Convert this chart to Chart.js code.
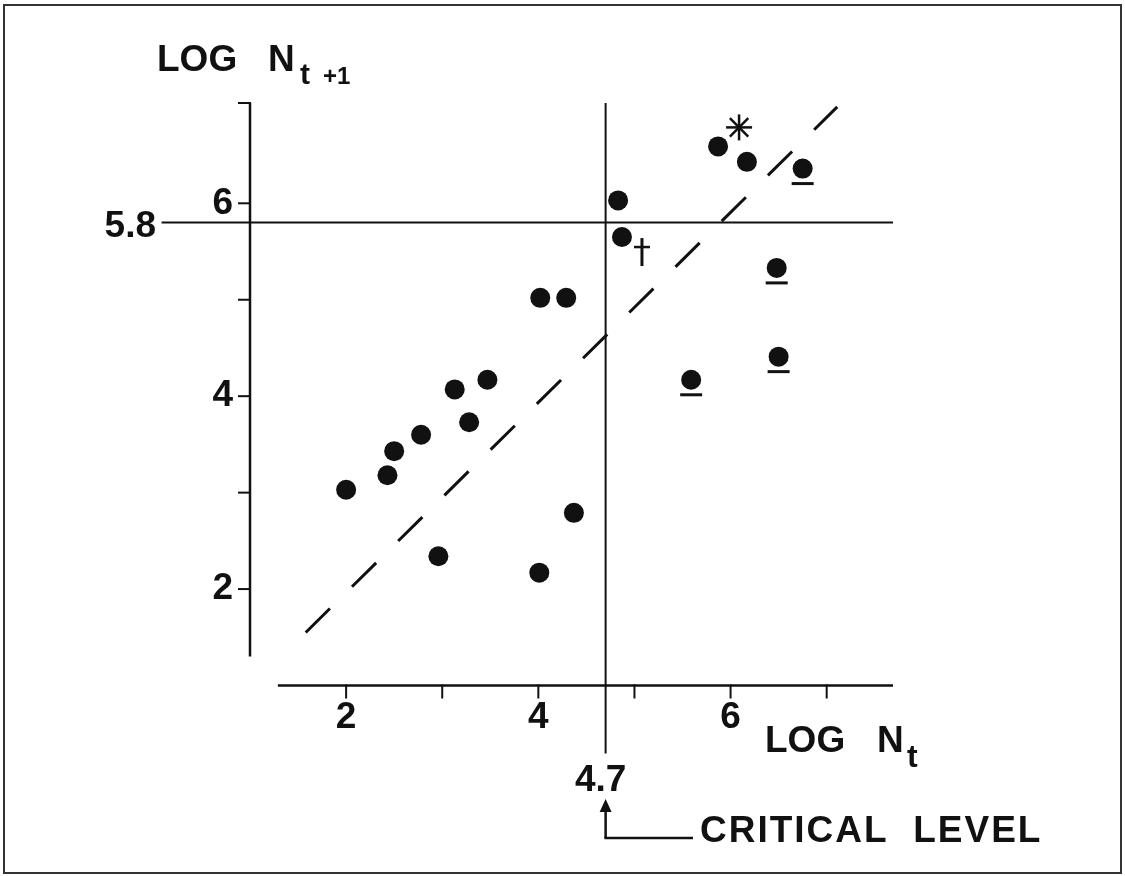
<!DOCTYPE html>
<html>
<head>
<meta charset="utf-8">
<script src="https://cdn.jsdelivr.net/npm/chart.js@4.4.0/dist/chart.umd.min.js"></script>
<style>
  html, body { margin: 0; padding: 0; background: #fff; }
  canvas { display: block; }
</style>
</head>
<body>
<canvas id="c" width="1125" height="876"></canvas>
<script>
// Log population in year t (x) against log population in year t+1 (y)
const dotX = [2.00, 2.43, 2.50, 2.78, 2.96, 3.13, 3.28, 3.47, 4.02, 4.01, 4.29, 4.37, 4.83, 4.87, 5.87, 6.17];
const dotY = [3.03, 3.18, 3.43, 3.60, 2.34, 4.07, 3.73, 4.17, 5.02, 2.17, 5.02, 2.79, 6.03, 5.65, 6.59, 6.43];
// years drawn with a bar under the dot
const barredX = [5.59, 6.48, 6.50, 6.75];
const barredY = [4.17, 5.33, 4.41, 6.36];
// replacement line (dashed)
const diagX = [1.58, 7.11];
const diagY = [1.55, 7.00];
// axis ticks; only even values carry a label
const xTicks = [2, 3, 4, 5, 6, 7];
const yTicks = [2, 3, 4, 5, 6];
// reference levels
const CRITICAL_LEVEL = 4.7;
const CEILING = 5.8;
// annotated years (indices into dotX / dotY)
const DAGGER_AT = 13;
const ASTERISK_AT = 14;

// axis extents
const X_MIN = 1, X_MAX = 7.69, X_AXIS_START = 1.29;
const Y_MIN = 1, Y_MAX = 7.04, Y_AXIS_START = 1.3;
const CEILING_FROM = 0.08;

const INK = '#111';
const FONT = '"Liberation Sans", Arial, Helvetica, sans-serif';

const toPoints = (xs, ys) => xs.map((v, i) => ({ x: v, y: ys[i] }));

function seg(ctx, x1, y1, x2, y2) {
  ctx.beginPath();
  ctx.moveTo(x1, y1);
  ctx.lineTo(x2, y2);
  ctx.stroke();
}

function txt(ctx, s, x, y, size, align, spacing) {
  ctx.font = 'bold ' + size + 'px ' + FONT;
  ctx.textAlign = align || 'left';
  ctx.textBaseline = 'alphabetic';
  ctx.letterSpacing = spacing || '0px';
  ctx.fillText(s, x, y);
  ctx.letterSpacing = '0px';
}

const figureMarks = {
  id: 'figureMarks',
  beforeDatasetsDraw(chart) {
    const { ctx, scales: { x, y } } = chart;
    ctx.save();
    ctx.strokeStyle = INK;
    ctx.lineCap = 'butt';
    const ax = x.getPixelForValue(X_MIN);
    const ay = y.getPixelForValue(Y_MIN);
    // detached axis lines
    ctx.lineWidth = 2.5;
    seg(ctx, ax, y.getPixelForValue(Y_AXIS_START), ax, y.getPixelForValue(Y_MAX));
    seg(ctx, x.getPixelForValue(X_AXIS_START), ay, x.getPixelForValue(X_MAX), ay);
    // tick marks
    ctx.lineWidth = 2;
    yTicks.concat([Y_MAX]).forEach(v => {
      const p = y.getPixelForValue(v);
      seg(ctx, ax - 12, p, ax + 1, p);
    });
    xTicks.forEach(v => {
      const p = x.getPixelForValue(v);
      seg(ctx, p, ay - 1, p, ay + 13);
    });
    // critical level and ceiling
    const cx = x.getPixelForValue(CRITICAL_LEVEL);
    seg(ctx, cx, y.getPixelForValue(Y_MAX), cx, ay + 68);
    const hy = y.getPixelForValue(CEILING);
    seg(ctx, x.getPixelForValue(CEILING_FROM), hy, x.getPixelForValue(X_MAX), hy);
    ctx.restore();
  },
  afterDatasetsDraw(chart) {
    const { ctx } = chart;
    ctx.save();
    ctx.strokeStyle = INK;
    ctx.fillStyle = INK;
    // bars under the marked years
    ctx.lineWidth = 3;
    chart.getDatasetMeta(1).data.forEach(pt => {
      seg(ctx, pt.x - 11, pt.y + 15, pt.x + 11, pt.y + 15);
    });
    const dots = chart.getDatasetMeta(0).data;
    // asterisk
    const a = dots[ASTERISK_AT];
    const ax = a.x + 21, ay = a.y - 19, r = 13;
    ctx.lineWidth = 2.5;
    for (let k = 0; k < 4; k++) {
      const t = k * Math.PI / 4;
      seg(ctx, ax - r * Math.cos(t), ay - r * Math.sin(t), ax + r * Math.cos(t), ay + r * Math.sin(t));
    }
    // dagger
    const d = dots[DAGGER_AT];
    const dx = d.x + 20;
    ctx.lineWidth = 3;
    seg(ctx, dx, d.y + 1, dx, d.y + 29);
    ctx.lineWidth = 2.5;
    seg(ctx, dx - 8, d.y + 10, dx + 8, d.y + 10);
    ctx.restore();
  },
  afterDraw(chart) {
    const { ctx, scales: { x, y } } = chart;
    ctx.save();
    ctx.fillStyle = INK;
    ctx.strokeStyle = INK;
    // y title: LOG N(t+1)
    txt(ctx, 'LOG', 157, 71, 37);
    txt(ctx, 'N', 268, 71, 37);
    txt(ctx, 't', 300, 84, 30);
    txt(ctx, '+1', 323, 84, 24);
    // x title: LOG N(t)
    txt(ctx, 'LOG', 765, 752, 37);
    txt(ctx, 'N', 877, 752, 37);
    txt(ctx, 't', 907, 767, 32);
    // ceiling label
    const hy = y.getPixelForValue(CEILING);
    txt(ctx, String(CEILING), 156, hy + 14, 37, 'right');
    // critical level label and arrow
    const cx = x.getPixelForValue(CRITICAL_LEVEL);
    txt(ctx, String(CRITICAL_LEVEL), cx - 5, 791, 37, 'center');
    ctx.lineWidth = 2.5;
    seg(ctx, cx, 838, cx, 808);
    seg(ctx, cx - 1.25, 838, 693, 838);
    ctx.beginPath();
    ctx.moveTo(cx, 799);
    ctx.lineTo(cx - 6, 812);
    ctx.lineTo(cx + 6, 812);
    ctx.closePath();
    ctx.fill();
    txt(ctx, 'CRITICAL  LEVEL', 700, 842, 37, 'left', '2px');
    // frame
    ctx.lineWidth = 2;
    ctx.strokeStyle = '#333';
    ctx.strokeRect(4, 5, 1117, 868);
    ctx.restore();
  }
};

const tickFont = { family: FONT, weight: 'bold', size: 37 };

new Chart(document.getElementById('c'), {
  type: 'scatter',
  data: {
    datasets: [
      {
        data: toPoints(dotX, dotY),
        backgroundColor: INK,
        borderWidth: 0,
        pointRadius: 10,
        pointHoverRadius: 10
      },
      {
        data: toPoints(barredX, barredY),
        backgroundColor: INK,
        borderWidth: 0,
        pointRadius: 10,
        pointHoverRadius: 10
      },
      {
        data: toPoints(diagX, diagY),
        showLine: true,
        borderColor: INK,
        borderWidth: 3,
        borderDash: [34, 31],
        pointRadius: 0,
        pointHoverRadius: 0,
        fill: false
      }
    ]
  },
  options: {
    responsive: false,
    animation: false,
    events: [],
    layout: { padding: { left: 0, right: 232, top: 103, bottom: 0 } },
    plugins: { legend: { display: false }, tooltip: { enabled: false } },
    scales: {
      x: {
        type: 'linear',
        min: X_MIN,
        max: X_MAX,
        afterBuildTicks: s => { s.ticks = xTicks.map(v => ({ value: v })); },
        afterFit: s => { s.height = 190.5; },
        grid: { display: false, drawTicks: false },
        border: { display: false },
        ticks: {
          padding: 10,
          color: INK,
          font: tickFont,
          maxRotation: 0,
          autoSkip: false,
          callback: v => (v % 2 === 0 ? String(v) : '')
        }
      },
      y: {
        type: 'linear',
        min: Y_MIN,
        max: Y_MAX,
        afterBuildTicks: s => { s.ticks = yTicks.map(v => ({ value: v })); },
        afterFit: s => { s.width = 250; },
        grid: { display: false, drawTicks: false },
        border: { display: false },
        ticks: {
          padding: 17,
          color: INK,
          font: tickFont,
          autoSkip: false,
          callback: v => (v % 2 === 0 ? String(v) : '')
        }
      }
    }
  },
  plugins: [figureMarks]
});
</script>
</body>
</html>
